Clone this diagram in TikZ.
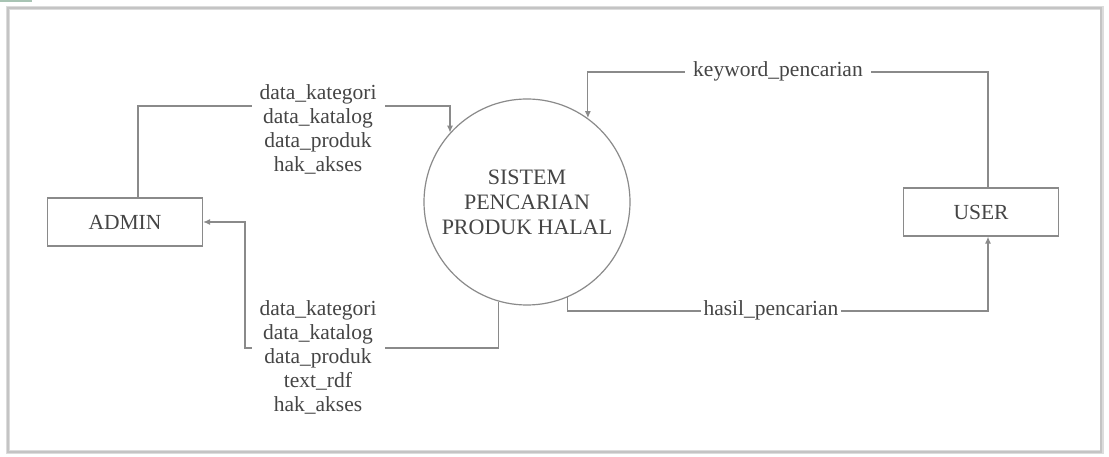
\documentclass[tikz,border=0pt]{standalone}
\usepackage{fontspec}
\setmainfont{Liberation Serif}
\usetikzlibrary{arrows.meta}
\definecolor{linec}{HTML}{8A8A8A}
\definecolor{textc}{HTML}{454545}
\definecolor{framec}{HTML}{C4C4C4}
\definecolor{tabc}{HTML}{A8C4B4}
\begin{document}
\begin{tikzpicture}[x=1pt,y=-1pt,
  every node/.style={font=\fontsize{21.5}{24}\selectfont, text=textc},
  entity/.style={draw=linec, line width=1.2pt, rectangle, minimum width=155pt, minimum height=48pt, inner sep=0pt},
  proc/.style={draw=linec, line width=1.2pt, circle, minimum size=206pt, inner sep=0pt, align=center, font=\fontsize{22}{25}\selectfont},
  flow/.style={draw=linec, line width=1.2pt},
  arr/.style={flow, -{Latex[length=7pt,width=6pt]}},
  lbl/.style={fill=white, align=center, inner xsep=8pt, inner ysep=1pt}]
\useasboundingbox (0,0) rectangle (1109,457);
\fill[white] (0,0) rectangle (1109,457);
% frame
\fill[tabc] (0,0) rectangle (32,2.5);
\draw[framec!60, line width=4pt] (8,8) rectangle (1102,452);
\draw[framec, line width=1.5pt] (8,8) rectangle (1101,452);

% nodes
\node[entity] (admin) at (125,222) {ADMIN};
\node[entity] (user) at (981,212) {USER};
\node[proc] (sys) at (527,202) {SISTEM\\PENCARIAN\\PRODUK HALAL};

% coordinates for bends
\coordinate (a1) at (138,106);
\coordinate (k1) at (988,72);
\coordinate (h1) at (988,311);
\coordinate (b1) at (245,348);

% connectors
\draw[arr] (admin.north -| a1) -- (a1) -| (sys.138);
\draw[arr] (user.north -| k1) -- (k1) -| (sys.54);
\draw[arr] (sys.-67) |- (h1) -- (user.south -| h1);
\draw[arr] (sys.-106) |- (b1) |- (admin.east);

% labels
\node[lbl] (l1) at (318,129) {data\_kategori\\data\_katalog\\data\_produk\\hak\_akses};
\node[lbl] (l2) at (778,71) {keyword\_pencarian};
\node[lbl, inner xsep=3pt] (l3) at (771,310) {hasil\_pencarian};
\node[lbl] (l4) at (318,357) {data\_kategori\\data\_katalog\\data\_produk\\text\_rdf\\hak\_akses};
\end{tikzpicture}
\end{document}
